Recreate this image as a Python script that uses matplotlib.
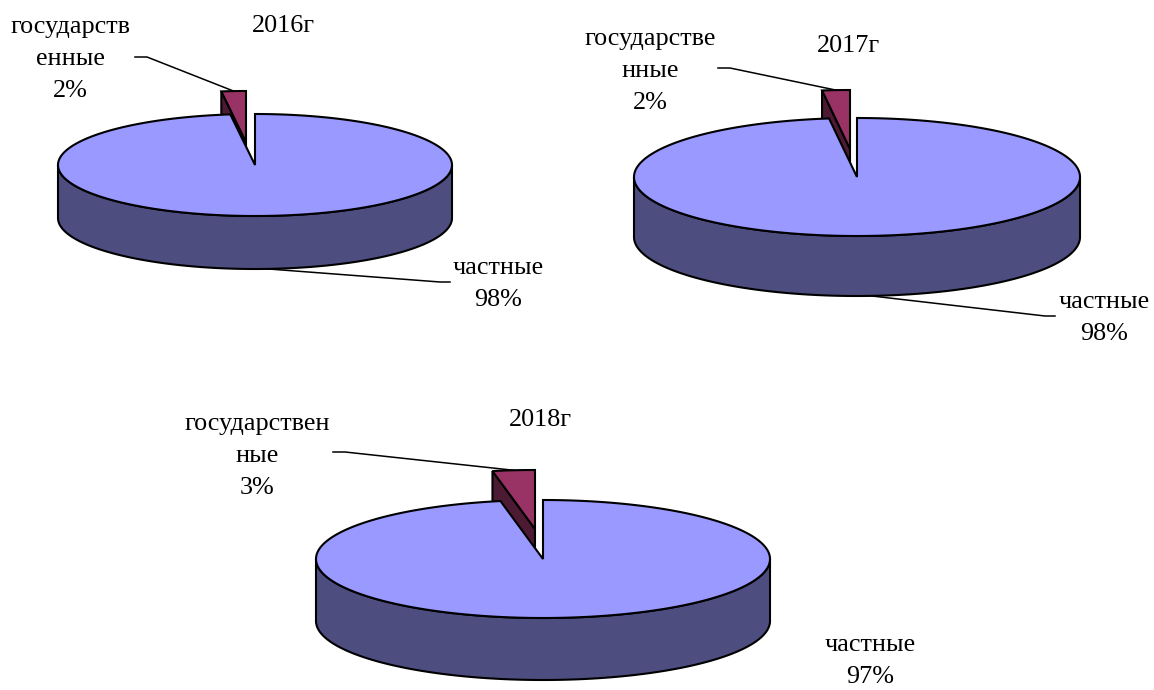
import numpy as np
import matplotlib.pyplot as plt
from matplotlib.patches import Polygon

plt.rcParams['font.family'] = ['Liberation Serif', 'DejaVu Serif']

# data
years = ['2016г', '2017г', '2018г']
state_names = ['государств\nенные', 'государстве\nнные', 'государствен\nные']
private_name = 'частные'
state_share = [2, 2, 3]
private_share = [98, 98, 97]

# layout of each 3d pie, in pixels
centres = [(255, 165), (857, 177), (543, 559)]
radii = [(197, 51), (223, 59), (227, 59)]
depths = [53, 60, 62]
explode = [(-9, -23), (-7, -28), (-8, -30)]
title_pos = [(283, 26), (848, 46), (540, 420)]
state_lbl = [(70, 59), (650, 71), (257, 456)]
state_lead = [(135, 57), (718, 68), (333, 452)]
private_lbl = [(498, 284), (1104, 318), (870, 661)]
private_lead = [(440, 282), (1045, 316), None]

top_c = '#9999ff'
side_c = '#4d4d80'
st_top = '#993366'
st_side = '#4d1a33'
lw = 1.5
fs = 18.8

fig = plt.figure(figsize=(11.54, 6.9), dpi=100)
ax = fig.add_axes([0, 0, 1, 1])
ax.set_xlim(0, 1154)
ax.set_ylim(690, 0)
ax.axis('off')


def pt(c, r, th):
    t = np.radians(np.atleast_1d(th))
    return np.column_stack([c[0] + r[0] * np.cos(t), c[1] - r[1] * np.sin(t)])


for i in range(3):
    c = np.array(centres[i], float)
    r = radii[i]
    d = depths[i]
    s = state_share[i] / (state_share[i] + private_share[i])
    th1 = 90 + 360 * s

    # exploded slice (state), drawn first so the main body hides its lower part
    ec = c + np.array(explode[i])
    rim = pt(ec, r, th1)[0]
    face = np.array([ec, rim, rim + [0, d], ec + [0, d]])
    ax.add_patch(Polygon(face, fc=st_side, ec='black', lw=lw))
    arc = pt(ec, r, np.linspace(90, th1, 30))
    ax.add_patch(Polygon(np.vstack([[ec], arc]), fc=st_top, ec='black', lw=lw))

    # main body (private): front wall, then top
    up = pt(c, r, np.linspace(180, 360, 300))
    lo = up + [0, d]
    ax.add_patch(Polygon(np.vstack([up, lo[::-1]]), fc=side_c, ec='black', lw=lw))
    arc = pt(c, r, np.linspace(th1, 450, 500))
    ax.add_patch(Polygon(np.vstack([[c], arc]), fc=top_c, ec='black', lw=lw))

    # titles and labels
    ax.text(*title_pos[i], years[i], ha='center', va='center', fontsize=fs)
    ax.text(*state_lbl[i], f'{state_names[i]}\n{state_share[i]}%',
            ha='center', va='center', fontsize=fs, linespacing=1.58)
    ax.text(*private_lbl[i], f'{private_name}\n{private_share[i]}%',
            ha='center', va='center', fontsize=fs, linespacing=1.58)

    # leader lines
    x0, y0 = state_lead[i]
    tip = pt(ec, r, 90 + 180 * s)[0]
    ax.plot([x0, x0 + 12, tip[0]], [y0, y0, tip[1]], color='black', lw=1.1)
    if private_lead[i] is not None:
        mid = pt(c, r, (th1 + 450) / 2)[0] + [0, d]
        x1, y1 = private_lead[i]
        ax.plot([mid[0], x1, x1 + 10], [mid[1], y1, y1], color='black', lw=1.1)

fig.savefig('out.png', dpi=100, facecolor='white')
